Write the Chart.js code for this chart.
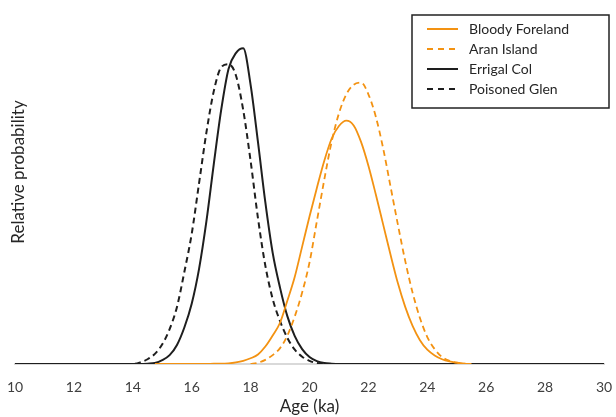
<!DOCTYPE html>
<html>
<head>
<meta charset="utf-8">
<script src="https://cdn.jsdelivr.net/npm/chart.js@4"></script>
<style>
  html, body { margin: 0; padding: 0; background: #fff; }
  #wrap { width: 616px; height: 417px; }
</style>
</head>
<body>
<div id="wrap"><canvas id="chart"></canvas></div>
<script>
// Age axis (ka) shared by all curves
var ages = [10, 12, 14, 14.25, 14.5, 14.75, 15, 15.25, 15.5, 15.75, 16, 16.25, 16.5, 16.75,
  17, 17.25, 17.5, 17.75, 18, 18.25, 18.5, 18.75, 19, 19.25, 19.5, 19.75, 20, 20.25, 20.5,
  20.75, 21, 21.25, 21.5, 21.75, 22, 22.25, 22.5, 22.75, 23, 23.25, 23.5, 23.75, 24, 24.25,
  24.5, 24.75, 25, 25.25, 25.5, 25.75, 26, 28, 30];

// Relative probability
var bloodyForeland = [null, null, null, null, null, 0, 0, 0, 0, 0, 0, 0, 0, 0.001,
  0.001, 0.002, 0.005, 0.01, 0.018, 0.03, 0.055, 0.09, 0.13, 0.2, 0.275, 0.37, 0.465, 0.555, 0.64,
  0.71, 0.75, 0.767, 0.752, 0.7, 0.625, 0.535, 0.44, 0.345, 0.255, 0.18, 0.12, 0.075, 0.045, 0.027,
  0.015, 0.008, 0.004, 0.001, 0, null, null, null, null];

var aranIsland = [null, null, null, null, null, null, null, null, null, null, null, null, null, null,
  null, null, null, null, 0, 0.004, 0.013, 0.028, 0.05, 0.09, 0.15, 0.225, 0.32, 0.45, 0.58,
  0.7, 0.79, 0.85, 0.88, 0.887, 0.85, 0.78, 0.68, 0.56, 0.44, 0.325, 0.225, 0.145, 0.085, 0.047,
  0.022, 0.01, 0.004, 0.001, 0, null, null, null, null];

var errigalCol = [0, 0, 0, 0, 0.001, 0.003, 0.012, 0.028, 0.06, 0.115, 0.19, 0.3, 0.45, 0.63,
  0.8, 0.93, 0.98, 0.995, 0.88, 0.7, 0.51, 0.35, 0.24, 0.15, 0.088, 0.047, 0.022, 0.009, 0.003,
  0.001, 0, 0, 0, 0, 0, 0, 0, 0, 0, 0, 0, 0, 0, 0,
  0, 0, 0, 0, 0, 0, 0, 0, 0];

var poisonedGlen = [0, 0, 0, 0.005, 0.015, 0.032, 0.062, 0.11, 0.18, 0.29, 0.41, 0.57, 0.73, 0.86,
  0.935, 0.945, 0.91, 0.8, 0.64, 0.46, 0.31, 0.205, 0.135, 0.082, 0.045, 0.023, 0.01, 0.003, 0,
  0, 0, 0, 0, 0, 0, 0, 0, 0, 0, 0, 0, 0, 0, 0,
  0, 0, 0, 0, 0, 0, 0, 0, 0];

var ORANGE = '#F39212';
var BLACK = '#1e1e1e';
var FONT = 'Lato, "Open Sans", sans-serif';

function toPoints(values) {
  return ages.map(function(a, i) { return { x: a, y: values[i] }; });
}

function series(label, values, color, dash, width) {
  return {
    label: label,
    data: toPoints(values),
    borderColor: color,
    backgroundColor: color,
    borderWidth: width,
    borderDash: dash,
    pointRadius: 0,
    fill: false,
    cubicInterpolationMode: 'monotone',
    spanGaps: false
  };
}

// Boxed legend in the top right corner, plus the y axis title
var boxedLegend = {
  id: 'boxedLegend',
  afterDraw: function(chart) {
    var ctx = chart.ctx;
    ctx.save();
    ctx.lineWidth = 1.5;
    ctx.strokeStyle = '#222';
    ctx.strokeRect(412, 15, 197, 93);

    ctx.font = '14px ' + FONT;
    ctx.textBaseline = 'middle';
    ctx.fillStyle = '#262626';
    chart.data.datasets.forEach(function(ds, i) {
      var y = 29 + i * 20;
      ctx.beginPath();
      ctx.strokeStyle = ds.borderColor;
      ctx.lineWidth = 2;
      ctx.setLineDash(ds.borderDash.length ? [6, 5] : []);
      ctx.moveTo(427, y);
      ctx.lineTo(458, y);
      ctx.stroke();
      ctx.setLineDash([]);
      ctx.fillText(ds.label, 469, y);
    });

    // y axis title
    ctx.translate(19, 172);
    ctx.rotate(-Math.PI / 2);
    ctx.textAlign = 'center';
    ctx.font = '17px ' + FONT;
    ctx.fillText('Relative probability', 0, 0);
    ctx.restore();
  }
};

var chart = new Chart(document.getElementById('chart'), {
  type: 'line',
  data: {
    datasets: [
      series('Bloody Foreland', bloodyForeland, ORANGE, [], 1.8),
      series('Aran Island', aranIsland, ORANGE, [6, 4], 1.8),
      series('Errigal Col', errigalCol, BLACK, [], 2),
      series('Poisoned Glen', poisonedGlen, BLACK, [6, 4], 2)
    ]
  },
  options: {
    responsive: true,
    maintainAspectRatio: false,
    animation: false,
    layout: { padding: { left: 15, right: 12, top: 15, bottom: 0 } },
    plugins: {
      legend: { display: false },
      tooltip: { enabled: false }
    },
    scales: {
      x: {
        type: 'linear',
        min: 10,
        max: 30,
        grid: { display: false, drawTicks: false },
        border: { display: true, color: '#d9d9d9', width: 2 },
        ticks: {
          stepSize: 2,
          padding: 15,
          color: '#3f3f3f',
          font: { family: FONT, size: 14 }
        },
        title: {
          display: true,
          text: 'Age (ka)',
          color: '#262626',
          font: { family: FONT, size: 17 },
          padding: { top: 0, bottom: 0 }
        },
        afterFit: function(scale) {
          scale.height = 53;
          scale.paddingLeft = 0;
          scale.paddingRight = 0;
        }
      },
      y: {
        display: false,
        min: 0,
        max: 1.1
      }
    }
  },
  plugins: [boxedLegend]
});
</script>
</body>
</html>
